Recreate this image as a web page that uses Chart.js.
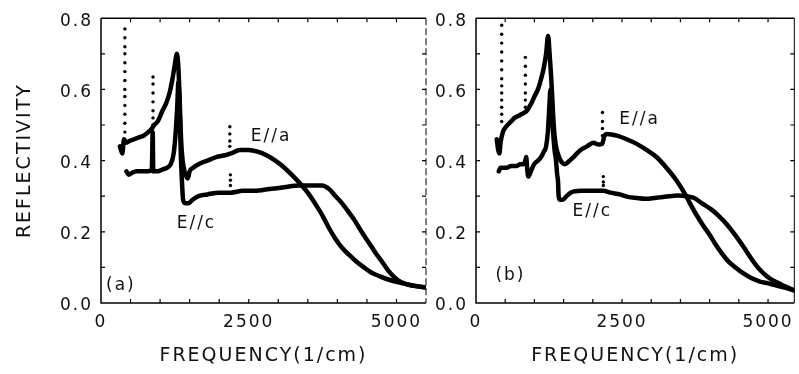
<!DOCTYPE html>
<html>
<head>
<meta charset="utf-8">
<script src="https://cdn.jsdelivr.net/npm/chart.js@4.4.1/dist/chart.umd.min.js"></script>
<style>
  html, body { margin: 0; padding: 0; background: #fff; }
  #wrap { position: relative; width: 799px; height: 374px; overflow: hidden; }
  canvas { position: absolute; top: 0; }
  #chartA { left: 0; }
  #chartB { left: 430px; }
</style>
</head>
<body>
<div id="wrap">
  <canvas id="chartA" width="430" height="374"></canvas>
  <canvas id="chartB" width="369" height="374"></canvas>
</div>
<script>
// --- tick labels ---
const xTickValues = [0, 2500, 5000];
const yTickValues = [0, 0.2, 0.4, 0.6, 0.8];

// --- panel (a) ---
const aFreqEa = [320, 360, 390, 430, 480, 560, 640, 720, 800, 860, 900, 960, 1040, 1100, 1160, 1210, 1250, 1285, 1310, 1330, 1350, 1370, 1400, 1430, 1470, 1500, 1560, 1650, 1800, 1950, 2100, 2200, 2350, 2500, 2650, 2800, 2950, 3070, 3230, 3400, 3520, 3640, 3750, 3860, 3970, 4080, 4200, 4310, 4450, 4580, 4720, 4865, 5035, 5200, 5350, 5500];
const aReflEa = [0.44, 0.42, 0.46, 0.45, 0.455, 0.46, 0.465, 0.47, 0.48, 0.49, 0.50, 0.51, 0.54, 0.56, 0.59, 0.63, 0.67, 0.70, 0.66, 0.58, 0.48, 0.42, 0.38, 0.36, 0.35, 0.37, 0.38, 0.39, 0.40, 0.41, 0.415, 0.42, 0.43, 0.43, 0.425, 0.415, 0.40, 0.385, 0.36, 0.33, 0.305, 0.275, 0.245, 0.21, 0.18, 0.155, 0.135, 0.118, 0.10, 0.085, 0.075, 0.066, 0.058, 0.052, 0.047, 0.044];

const aFreqEc = [430, 470, 520, 600, 700, 800, 860, 875, 885, 960, 1040, 1120, 1180, 1230, 1260, 1290, 1310, 1330, 1350, 1370, 1390, 1430, 1480, 1550, 1650, 1800, 2000, 2200, 2400, 2600, 2850, 3100, 3350, 3550, 3740, 3860, 3970, 4080, 4190, 4300, 4410, 4530, 4650, 4760, 4865, 4950, 5035, 5150, 5300, 5500];
const aReflEc = [0.37, 0.36, 0.365, 0.37, 0.37, 0.37, 0.375, 0.48, 0.37, 0.37, 0.375, 0.38, 0.39, 0.42, 0.47, 0.55, 0.62, 0.55, 0.42, 0.34, 0.29, 0.28, 0.28, 0.29, 0.30, 0.305, 0.31, 0.31, 0.315, 0.315, 0.32, 0.325, 0.33, 0.33, 0.33, 0.32, 0.30, 0.28, 0.256, 0.23, 0.20, 0.17, 0.14, 0.115, 0.09, 0.075, 0.063, 0.054, 0.048, 0.043];

// phonon spikes, sampled as dots
const aSpikeFreq = [404, 404, 404, 404, 404, 404, 404, 404, 404, 404, 404, 404, 404, 880, 880, 880, 880, 880, 880, 880, 2180, 2180, 2180, 2180, 2190, 2190, 2190];
const aSpikeRefl = [0.77, 0.745, 0.72, 0.70, 0.675, 0.65, 0.625, 0.60, 0.58, 0.555, 0.53, 0.505, 0.48, 0.635, 0.615, 0.59, 0.565, 0.54, 0.52, 0.50, 0.495, 0.475, 0.455, 0.44, 0.36, 0.345, 0.33];

// --- panel (b) ---
const bFreqEa = [355, 380, 400, 420, 460, 490, 540, 600, 660, 720, 775, 830, 870, 910, 960, 1000, 1060, 1115, 1160, 1200, 1235, 1260, 1285, 1305, 1320, 1345, 1370, 1400, 1450, 1520, 1570, 1670, 1790, 1900, 2010, 2100, 2160, 2200, 2245, 2415, 2580, 2750, 2920, 3090, 3260, 3430, 3600, 3680, 3766, 3880, 3986, 4100, 4206, 4320, 4442, 4580, 4712, 4850, 5000, 5130, 5250, 5360, 5450];
const bReflEa = [0.46, 0.43, 0.42, 0.45, 0.48, 0.49, 0.50, 0.51, 0.52, 0.525, 0.53, 0.535, 0.54, 0.55, 0.565, 0.58, 0.60, 0.63, 0.66, 0.70, 0.75, 0.70, 0.64, 0.58, 0.53, 0.47, 0.44, 0.42, 0.40, 0.39, 0.395, 0.41, 0.43, 0.44, 0.45, 0.445, 0.447, 0.47, 0.475, 0.47, 0.46, 0.447, 0.43, 0.41, 0.38, 0.345, 0.30, 0.275, 0.25, 0.22, 0.195, 0.165, 0.14, 0.117, 0.10, 0.083, 0.07, 0.061, 0.055, 0.05, 0.045, 0.04, 0.035];

const bFreqEc = [390, 420, 470, 525, 600, 690, 760, 810, 845, 860, 875, 895, 940, 995, 1060, 1115, 1160, 1200, 1230, 1255, 1275, 1295, 1320, 1345, 1370, 1390, 1405, 1415, 1440, 1485, 1550, 1620, 1800, 1960, 2180, 2300, 2465, 2600, 2750, 2900, 3055, 3200, 3310, 3450, 3600, 3735, 3868, 4010, 4155, 4300, 4442, 4580, 4712, 4800, 4881, 4980, 5085, 5168, 5250, 5360, 5450];
const bReflEc = [0.37, 0.38, 0.38, 0.38, 0.385, 0.385, 0.39, 0.39, 0.40, 0.41, 0.38, 0.355, 0.37, 0.39, 0.40, 0.41, 0.425, 0.44, 0.48, 0.55, 0.60, 0.55, 0.48, 0.43, 0.40, 0.36, 0.34, 0.30, 0.29, 0.29, 0.30, 0.31, 0.315, 0.315, 0.315, 0.31, 0.305, 0.298, 0.295, 0.293, 0.295, 0.298, 0.30, 0.302, 0.30, 0.295, 0.28, 0.265, 0.245, 0.22, 0.19, 0.158, 0.125, 0.105, 0.09, 0.075, 0.063, 0.057, 0.05, 0.042, 0.035];

const bSpikeFreq = [440, 440, 440, 440, 440, 440, 440, 440, 440, 440, 440, 440, 440, 845, 845, 845, 845, 845, 845, 845, 2165, 2165, 2165, 2165, 2180, 2180, 2180];
const bSpikeRefl = [0.78, 0.755, 0.73, 0.705, 0.68, 0.655, 0.63, 0.61, 0.59, 0.57, 0.55, 0.53, 0.51, 0.69, 0.665, 0.64, 0.615, 0.59, 0.57, 0.55, 0.535, 0.51, 0.49, 0.47, 0.355, 0.34, 0.33];

const INK = '#111';
const FONT = '"DejaVu Sans", sans-serif';

const toPoints = (xs, ys) => xs.map((v, i) => ({ x: v, y: ys[i] }));

function curve(xs, ys) {
    return {
        type: 'line',
        data: toPoints(xs, ys),
        borderColor: '#000',
        borderWidth: 4.5,
        pointRadius: 0,
        cubicInterpolationMode: 'monotone',
        borderJoinStyle: 'round',
        borderCapStyle: 'round'
    };
}

function dots(xs, ys) {
    return {
        type: 'scatter',
        data: toPoints(xs, ys),
        showLine: false,
        pointRadius: 1.7,
        pointBackgroundColor: '#000',
        pointBorderWidth: 0
    };
}

// wider tracking for all text on the canvas
const tracking = {
    id: 'tracking',
    beforeDraw(chart) { chart.ctx.letterSpacing = '2px'; }
};

// box frame, inward ticks, and in-plot text labels
const frameTicks = {
    id: 'frameTicks',
    afterDraw(chart, args, opts) {
        const { ctx, chartArea: a, scales: { x, y } } = chart;
        ctx.save();
        ctx.strokeStyle = '#000';
        ctx.lineWidth = 1.5;
        ctx.beginPath();
        ctx.moveTo(a.left, a.top); ctx.lineTo(a.left, a.bottom); ctx.lineTo(a.right, a.bottom);
        ctx.moveTo(a.left, a.top); ctx.lineTo(a.right, a.top);
        ctx.stroke();

        ctx.lineWidth = 1;
        ctx.setLineDash(opts.rightDash || []);
        ctx.beginPath();
        ctx.moveTo(a.right, a.top); ctx.lineTo(a.right, a.bottom);
        ctx.stroke();
        ctx.setLineDash([]);

        ctx.lineWidth = 1.2;
        ctx.beginPath();
        for (let v = 500; v < x.max; v += 500) {
            const px = x.getPixelForValue(v);
            ctx.moveTo(px, a.bottom); ctx.lineTo(px, a.bottom - 4);
            ctx.moveTo(px, a.top); ctx.lineTo(px, a.top + 4);
        }
        for (let i = 1; i < 8; i++) {
            const py = y.getPixelForValue(i / 10);
            ctx.moveTo(a.left, py); ctx.lineTo(a.left + 4, py);
            ctx.moveTo(a.right, py); ctx.lineTo(a.right - 4, py);
        }
        ctx.stroke();

        ctx.fillStyle = INK;
        ctx.font = '17px ' + FONT;
        ctx.textAlign = 'center';
        ctx.textBaseline = 'middle';
        (opts.labels || []).forEach(l => {
            ctx.fillText(l.text, x.getPixelForValue(l.x), y.getPixelForValue(l.y));
        });
        ctx.restore();
    }
};

function makeChart(id, cfg) {
    const ctx = document.getElementById(id).getContext('2d');
    return new Chart(ctx, {
        data: { datasets: cfg.datasets },
        options: {
            responsive: false,
            animation: false,
            events: [],
            layout: { padding: { top: 12, right: cfg.padRight, left: 0, bottom: 0 } },
            plugins: {
                legend: { display: false },
                tooltip: { enabled: false },
                frameTicks: { labels: cfg.labels, rightDash: cfg.rightDash }
            },
            scales: {
                x: {
                    type: 'linear',
                    min: 0,
                    max: cfg.xMax,
                    afterBuildTicks: s => { s.ticks = xTickValues.map(v => ({ value: v })); },
                    afterFit: s => { s.height = 71; },
                    grid: { display: false, drawTicks: false },
                    border: { display: false },
                    ticks: {
                        color: INK,
                        font: { family: FONT, size: 17 },
                        padding: 9,
                        maxRotation: 0,
                        autoSkip: false,
                        callback: v => String(v)
                    },
                    title: {
                        display: true,
                        text: 'FREQUENCY(1/cm)',
                        color: INK,
                        font: { family: FONT, size: 19 },
                        padding: { top: 0, bottom: 7 }
                    }
                },
                y: {
                    type: 'linear',
                    min: 0,
                    max: 0.8,
                    afterBuildTicks: s => { s.ticks = yTickValues.map(v => ({ value: v })); },
                    afterFit: s => { s.width = cfg.yWidth; },
                    grid: { display: false, drawTicks: false },
                    border: { display: false },
                    ticks: {
                        color: INK,
                        font: { family: FONT, size: 17 },
                        padding: 8,
                        labelOffset: 3,
                        callback: v => v.toFixed(1)
                    },
                    title: {
                        display: cfg.yTitle,
                        text: 'REFLECTIVITY',
                        color: INK,
                        font: { family: FONT, size: 19 },
                        padding: { top: 14, bottom: 0 }
                    }
                }
            }
        },
        plugins: [tracking, frameTicks]
    });
}

makeChart('chartA', {
    xMax: 5500,
    yWidth: 101,
    padRight: 2,
    yTitle: true,
    rightDash: [7, 3],
    datasets: [curve(aFreqEa, aReflEa), curve(aFreqEc, aReflEc), dots(aSpikeFreq, aSpikeRefl)],
    labels: [
        { text: 'E//a', x: 2877, y: 0.467 },
        { text: 'E//c', x: 1615, y: 0.223 },
        { text: '(a)', x: 336, y: 0.05 }
    ]
});

makeChart('chartB', {
    xMax: 5450,
    yWidth: 46,
    padRight: 1,
    yTitle: false,
    rightDash: [],
    datasets: [curve(bFreqEa, bReflEa), curve(bFreqEc, bReflEc), dots(bSpikeFreq, bSpikeRefl)],
    labels: [
        { text: 'E//a', x: 2800, y: 0.514 },
        { text: 'E//c', x: 1990, y: 0.256 },
        { text: '(b)', x: 590, y: 0.077 }
    ]
});
</script>
</body>
</html>
